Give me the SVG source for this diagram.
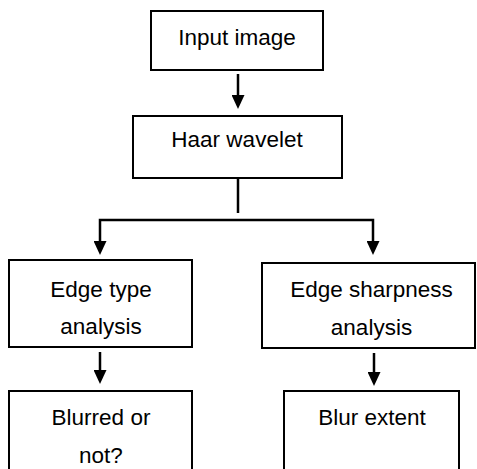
<svg xmlns="http://www.w3.org/2000/svg" width="477" height="469" viewBox="0 0 477 469">
<style>
.box{fill:#fff;stroke:#000;stroke-width:2}
.lbl{font-family:"Liberation Sans",Arial,sans-serif;font-size:22.5px;fill:#000;text-anchor:middle}
.conn{fill:none;stroke:#000;stroke-width:2.5}
</style>
<defs>
<marker id="ah" viewBox="0 0 14 13" refX="0" refY="6.5" markerWidth="14" markerHeight="13" markerUnits="userSpaceOnUse" orient="auto">
<path d="M0,0 L14,6.5 L0,13 z" fill="#000"/>
</marker>
</defs>
<rect width="477" height="469" fill="#fff"/>
<g id="connectors">
<path class="conn" d="M238,74 V95" marker-end="url(#ah)"/>
<path class="conn" d="M238,178 V213"/>
<path class="conn" d="M238,220 H100 V241" marker-end="url(#ah)"/>
<path class="conn" d="M238,220 H373 V241" marker-end="url(#ah)"/>
<path class="conn" d="M100,352 V370" marker-end="url(#ah)"/>
<path class="conn" d="M374,353 V372" marker-end="url(#ah)"/>
</g>
<g id="input">
<rect class="box" x="151" y="11" width="172" height="59"/>
<text class="lbl" x="237" y="45">Input image</text>
</g>
<g id="haar">
<rect class="box" x="133" y="116" width="209" height="62"/>
<text class="lbl" x="237" y="147">Haar wavelet</text>
</g>
<g id="edgetype">
<rect class="box" x="9" y="260" width="183" height="87"/>
<text class="lbl" x="101" y="297">Edge type</text>
<text class="lbl" x="101" y="334">analysis</text>
</g>
<g id="edgesharp">
<rect class="box" x="262" y="263" width="213" height="85"/>
<text class="lbl" x="371.5" y="297">Edge sharpness</text>
<text class="lbl" x="371.5" y="335">analysis</text>
</g>
<g id="blurred">
<rect class="box" x="9" y="391" width="183" height="100"/>
<text class="lbl" x="101" y="425">Blurred or</text>
<text class="lbl" x="101" y="463">not?</text>
</g>
<g id="blurextent">
<rect class="box" x="284" y="391" width="175" height="100"/>
<text class="lbl" x="372" y="425">Blur extent</text>
</g>
</svg>
